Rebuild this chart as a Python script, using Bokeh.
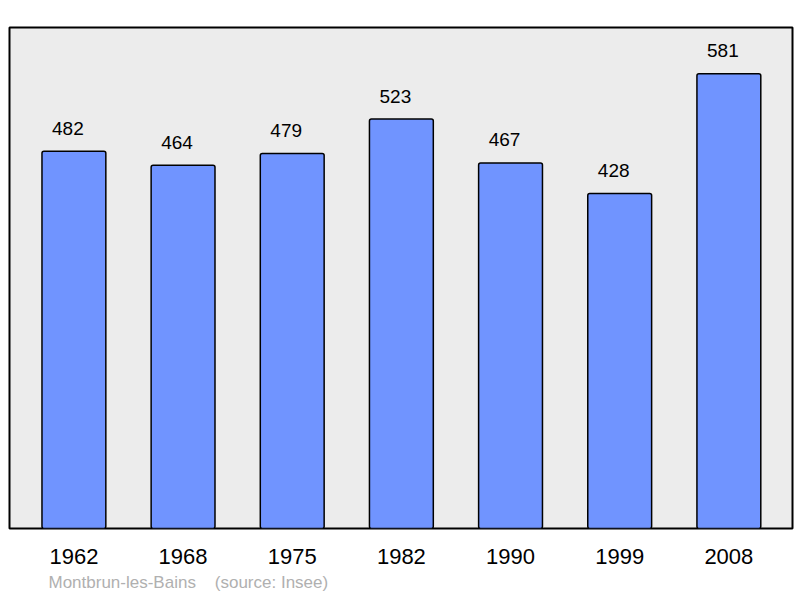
from bokeh.plotting import figure
from bokeh.models import ColumnDataSource, FixedTicker, Range1d, Title
from bokeh.core.properties import value
from bokeh.embed import file_html
from bokeh.resources import INLINE

years = ["1962", "1968", "1975", "1982", "1990", "1999", "2008"]
population = [482, 464, 479, 523, 467, 428, 581]
positions = list(range(len(years)))
source_text = "Montbrun-les-Bains" + "\u00a0" * 4 + "(source: Insee)"

src = ColumnDataSource(dict(x=positions, top=population,
                            label=[str(v) for v in population]))

p = figure(width=800, height=598, output_backend="svg", toolbar_location=None,
           x_range=Range1d(-0.59, 6.583), y_range=Range1d(0, 640),
           min_border_left=9, min_border_right=8, min_border_top=27,
           min_border_bottom=70,
           background_fill_color="#ececec", border_fill_color="white")
p.outline_line_color = "black"
p.outline_line_width = 2
p.grid.visible = False
p.yaxis.visible = False

p.vbar(x="x", top="top", bottom=0, width=0.585, source=src,
       fill_color="#7094ff", line_color="black", line_width=1.5, border_radius=2)
p.text(x="x", y="top", text="label", source=src, x_offset=-6, y_offset=-23,
       text_align="center", text_baseline="alphabetic", text_font_size="19px",
       text_font=value("Liberation Sans"), text_color="black")

ax = p.xaxis[0]
ax.ticker = FixedTicker(ticks=positions)
ax.major_label_overrides = {i: y for i, y in enumerate(years)}
ax.axis_line_color = None
ax.major_tick_line_color = None
ax.minor_tick_line_color = None
ax.major_label_text_font = "Liberation Sans"
ax.major_label_text_font_size = "22px"
ax.major_label_text_color = "black"
ax.major_label_standoff = 14

t = Title(text=source_text, align="left", text_font="Liberation Sans",
          text_font_size="17px", text_color="#b0b0b0", text_font_style="normal",
          offset=39, standoff=9)
p.add_layout(t, "below")

open("out.html", "w").write(file_html(p, INLINE))
